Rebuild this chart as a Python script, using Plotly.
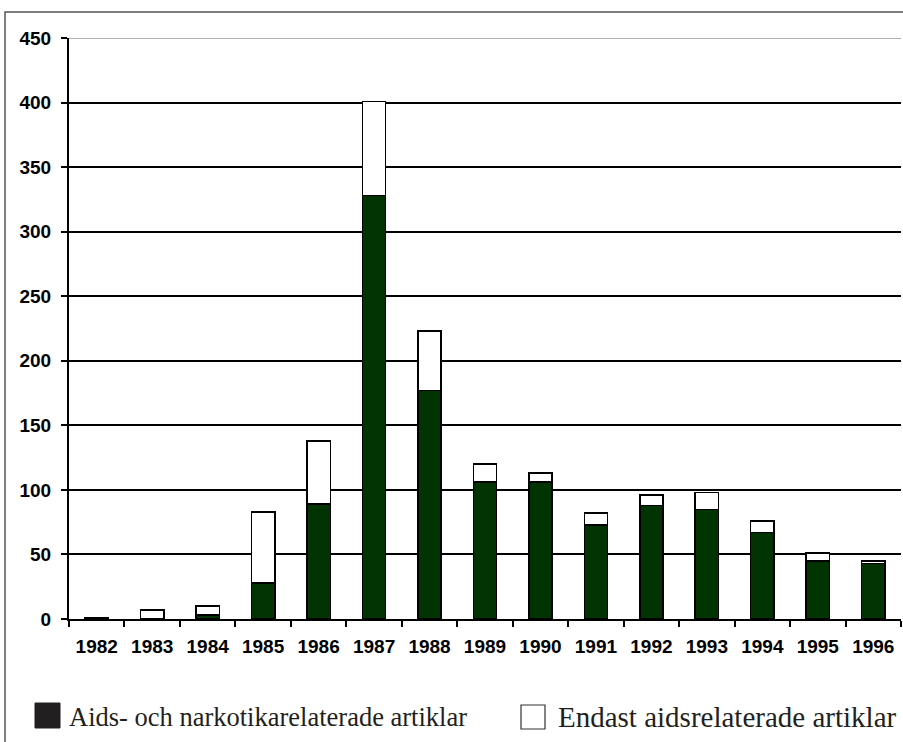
import plotly.graph_objects as go

years = ["1982", "1983", "1984", "1985", "1986", "1987", "1988", "1989",
         "1990", "1991", "1992", "1993", "1994", "1995", "1996"]
aids_narkotika = [1, 0, 3, 28, 89, 328, 177, 106, 106, 73, 88, 85, 67, 45, 43]
endast_aids = [0, 7, 7, 55, 49, 73, 46, 14, 7, 9, 8, 13, 9, 6, 2]
legend_labels = ["Aids- och narkotikarelaterade artiklar", "Endast aidsrelaterade artiklar"]

W, H = 903, 742
L, R, T, B = 69, 2, 38, 123
PW, PH = W - L - R, H - T - B


def px(x):
    return (x - L) / PW


def py(y):
    return (H - B - y) / PH


fig = go.Figure()
fig.add_trace(go.Bar(x=years, y=aids_narkotika, name=legend_labels[0],
                     marker=dict(color="#023302", line=dict(color="black", width=1.5))))
fig.add_trace(go.Bar(x=years, y=endast_aids, name=legend_labels[1],
                     marker=dict(color="white", line=dict(color="black", width=1.5))))

tick_font = dict(family="Liberation Sans", size=19, color="black", weight="bold")

fig.update_layout(
    width=W, height=H,
    margin=dict(l=L, r=R, t=T, b=B),
    barmode="stack", bargap=0.58,
    plot_bgcolor="white", paper_bgcolor="white",
    showlegend=False,
    font=dict(family="Liberation Sans", color="black"),
)
fig.update_xaxes(type="category", tickson="boundaries", ticks="outside", ticklen=6,
                 tickwidth=1.5, tickcolor="black", showline=True, linecolor="black",
                 linewidth=2, showgrid=False, tickfont=tick_font, ticklabelstandoff=9)
fig.update_yaxes(range=[0, 450], dtick=50, ticks="outside", ticklen=6, tickwidth=1.5,
                 tickcolor="black", showline=True, linecolor="black", linewidth=2,
                 showgrid=True, gridcolor="black", gridwidth=1.5, zeroline=False,
                 tickfont=tick_font, ticklabelstandoff=6)

shapes = [
    # top gridline lighter
    dict(type="line", xref="paper", yref="y", x0=0, x1=1, y0=450, y1=450,
         line=dict(color="#b0b0b0", width=2)),
    # outer frame
    dict(type="rect", xref="paper", yref="paper", x0=px(5), x1=px(910), y0=py(12), y1=py(750),
         line=dict(color="#555555", width=1.5), layer="below"),
    # legend boxes
    dict(type="rect", xref="paper", yref="paper", x0=px(35), x1=px(60), y0=py(703), y1=py(728),
         fillcolor="#231f20", line=dict(color="#231f20", width=1)),
    dict(type="rect", xref="paper", yref="paper", x0=px(521), x1=px(545), y0=py(705), y1=py(729),
         fillcolor="white", line=dict(color="#333333", width=1.2)),
]
fig.update_layout(shapes=shapes)

fig.add_annotation(x=px(67), y=py(717), xref="paper", yref="paper", text=legend_labels[0],
                   showarrow=False, xanchor="left", yanchor="middle",
                   font=dict(family="Liberation Serif", size=26.5, color="#231f20"))
fig.add_annotation(x=px(556), y=py(717), xref="paper", yref="paper", text=legend_labels[1],
                   showarrow=False, xanchor="left", yanchor="middle",
                   font=dict(family="Liberation Serif", size=29, color="#231f20"))

fig.write_html("out.html", config={"displayModeBar": False},
               post_script="document.body.style.margin='0';")
